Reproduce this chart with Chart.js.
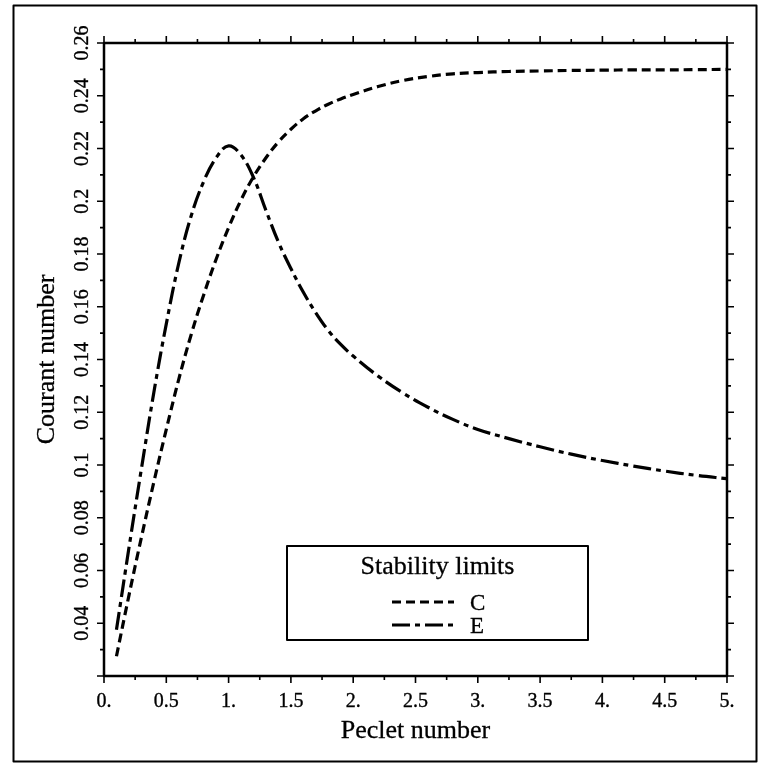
<!DOCTYPE html>
<html>
<head>
<meta charset="utf-8">
<title>Stability limits</title>
<script src="https://cdn.jsdelivr.net/npm/chart.js@4.4.1/dist/chart.umd.min.js"></script>
<style>
  html, body { margin: 0; padding: 0; background: #fff; }
  canvas { display: block; }
</style>
</head>
<body>
<canvas id="chart" width="759" height="765"></canvas>
<script>
// Peclet numbers at which both stability limits are sampled
const peclet = [0.1, 0.2, 0.3, 0.4, 0.5, 0.6, 0.7, 0.8, 0.9, 1.0, 1.1, 1.2, 1.3, 1.4, 1.5,
                1.6, 1.7, 1.8, 1.9, 2.0, 2.2, 2.4, 2.6, 2.8, 3.0, 3.25, 3.5, 3.75, 4.0,
                4.25, 4.5, 4.75, 5.0];

// Courant number limit, scheme C
const courantC = [0.0275, 0.0505, 0.0725, 0.0935, 0.1135, 0.1325, 0.1495, 0.1645, 0.178, 0.190,
                  0.2005, 0.2093, 0.2165, 0.2225, 0.2273, 0.2313, 0.2343, 0.2368, 0.2388, 0.2405,
                  0.2435, 0.2458, 0.2473, 0.2483, 0.2488, 0.2492, 0.2494, 0.2496, 0.2497,
                  0.2498, 0.2498, 0.2499, 0.2500];

// Courant number limit, scheme E
const courantE = [0.0375, 0.0685, 0.0985, 0.1275, 0.1535, 0.1765, 0.1945, 0.2075, 0.2165, 0.221,
                  0.2175, 0.209, 0.1965, 0.1845, 0.1745, 0.1655, 0.1577, 0.151, 0.1457, 0.1413,
                  0.1337, 0.1273, 0.1219, 0.1173, 0.1135, 0.110, 0.1069, 0.1041, 0.1017,
                  0.0996, 0.0977, 0.0961, 0.0948];

const seriesNames = ['C', 'E'];
const legendTitle = 'Stability limits';
const xTitle = 'Peclet number';
const yTitle = 'Courant number';

// Axis ticks
const xMajorTicks = [0, 0.5, 1, 1.5, 2, 2.5, 3, 3.5, 4, 4.5, 5];
const xTickLabels = ['0.', '0.5', '1.', '1.5', '2.', '2.5', '3.', '3.5', '4.', '4.5', '5.'];
const yMajorTicks = [0.04, 0.06, 0.08, 0.10, 0.12, 0.14, 0.16, 0.18, 0.20, 0.22, 0.24, 0.26];
const yTickLabels = ['0.04', '0.06', '0.08', '0.1', '0.12', '0.14', '0.16', '0.18', '0.2', '0.22', '0.24', '0.26'];

const SERIF = '"Liberation Serif", "Times New Roman", Times, serif';

function points(xs, ys) {
  return xs.map((x, i) => ({ x: x, y: ys[i] }));
}

// Text with a slightly heavier stroke, like a printed plot
function inkText(ctx, text, x, y, weight) {
  ctx.fillText(text, x, y);
  ctx.lineWidth = weight;
  ctx.strokeText(text, x, y);
}

// Frame, boxed axes with outward ticks, rotated y labels and the legend box
const boxedAxes = {
  id: 'boxedAxes',
  beforeDraw(chart) {
    const ctx = chart.ctx;
    ctx.save();
    ctx.fillStyle = '#fff';
    ctx.fillRect(0, 0, chart.width, chart.height);
    ctx.restore();
  },
  afterDatasetsDraw(chart) {
    const { ctx, chartArea: a } = chart;
    const xs = chart.scales.x, ys = chart.scales.y;
    ctx.save();
    ctx.strokeStyle = '#000';
    ctx.fillStyle = '#000';
    ctx.lineJoin = 'round';

    // outer frame
    ctx.lineWidth = 2;
    ctx.strokeRect(13.5, 5.5, 743, 756);

    // plot box
    ctx.lineWidth = 2.5;
    ctx.strokeRect(a.left, a.top, a.right - a.left, a.bottom - a.top);

    // x ticks (bottom and top), majors plus midway minors
    ctx.lineWidth = 1.6;
    ctx.beginPath();
    xMajorTicks.forEach((v, i) => {
      const px = xs.getPixelForValue(v);
      ctx.moveTo(px, a.bottom); ctx.lineTo(px, a.bottom + 7);
      ctx.moveTo(px, a.top); ctx.lineTo(px, a.top - 7);
      if (i < xMajorTicks.length - 1) {
        const pm = xs.getPixelForValue((v + xMajorTicks[i + 1]) / 2);
        ctx.moveTo(pm, a.bottom); ctx.lineTo(pm, a.bottom + 4);
        ctx.moveTo(pm, a.top); ctx.lineTo(pm, a.top - 4);
      }
    });
    // y ticks (left and right), every 0.01 from the axis minimum
    for (let k = Math.round(ys.min * 100); k <= Math.round(ys.max * 100); k++) {
      const py = ys.getPixelForValue(k / 100);
      const len = k % 2 === 0 ? 7 : 4;
      ctx.moveTo(a.left, py); ctx.lineTo(a.left - len, py);
      ctx.moveTo(a.right, py); ctx.lineTo(a.right + len, py);
    }
    ctx.stroke();

    // tick labels
    ctx.font = '20px ' + SERIF;
    ctx.textAlign = 'center';
    ctx.textBaseline = 'alphabetic';
    xMajorTicks.forEach((v, i) => {
      inkText(ctx, xTickLabels[i], xs.getPixelForValue(v), a.bottom + 31, 0.35);
    });
    yMajorTicks.forEach((v, i) => {
      ctx.save();
      ctx.translate(a.left - 16, ys.getPixelForValue(v));
      ctx.rotate(-Math.PI / 2);
      inkText(ctx, yTickLabels[i], 0, 0, 0.35);
      ctx.restore();
    });

    // axis titles
    ctx.font = '26px ' + SERIF;
    inkText(ctx, xTitle, (a.left + a.right) / 2, a.bottom + 62, 0.3);
    ctx.save();
    ctx.translate(a.left - 50, (a.top + a.bottom) / 2);
    ctx.rotate(-Math.PI / 2);
    inkText(ctx, yTitle, 0, 0, 0.3);
    ctx.restore();

    // legend box
    const bx = 287, by = 546, bw = 301, bh = 94;
    ctx.lineWidth = 2;
    ctx.fillStyle = '#fff';
    ctx.fillRect(bx, by, bw, bh);
    ctx.strokeRect(bx, by, bw, bh);
    ctx.fillStyle = '#000';
    ctx.font = '26px ' + SERIF;
    ctx.textAlign = 'center';
    inkText(ctx, legendTitle, bx + bw / 2, by + 28, 0.3);
    ctx.font = '23px ' + SERIF;
    ctx.textAlign = 'left';
    chart.data.datasets.forEach((ds, i) => {
      const ly = by + 56 + i * 23;
      ctx.save();
      ctx.lineWidth = 3;
      ctx.setLineDash(ds.borderDash);
      ctx.beginPath();
      ctx.moveTo(bx + 105, ly);
      ctx.lineTo(bx + 167, ly);
      ctx.stroke();
      ctx.restore();
      inkText(ctx, ds.label, bx + 183, ly + 8, 0.3);
    });
    ctx.restore();
  }
};

new Chart(document.getElementById('chart'), {
  type: 'line',
  data: {
    datasets: [
      {
        label: seriesNames[0],
        data: points(peclet, courantC),
        borderColor: '#000',
        borderWidth: 3.2,
        borderDash: [9, 5],
        pointRadius: 0,
        tension: 0.4,
        fill: false
      },
      {
        label: seriesNames[1],
        data: points(peclet, courantE),
        borderColor: '#000',
        borderWidth: 3.2,
        borderDash: [18, 5, 5, 5],
        pointRadius: 0,
        tension: 0.4,
        fill: false
      }
    ]
  },
  options: {
    responsive: false,
    animation: false,
    devicePixelRatio: 1,
    layout: { padding: { left: 104, top: 43, right: 32, bottom: 89 } },
    plugins: { legend: { display: false }, tooltip: { enabled: false } },
    scales: {
      x: { type: 'linear', min: 0, max: 5, display: false },
      y: { type: 'linear', min: 0.02, max: 0.26, display: false }
    }
  },
  plugins: [boxedAxes]
});
</script>
</body>
</html>
